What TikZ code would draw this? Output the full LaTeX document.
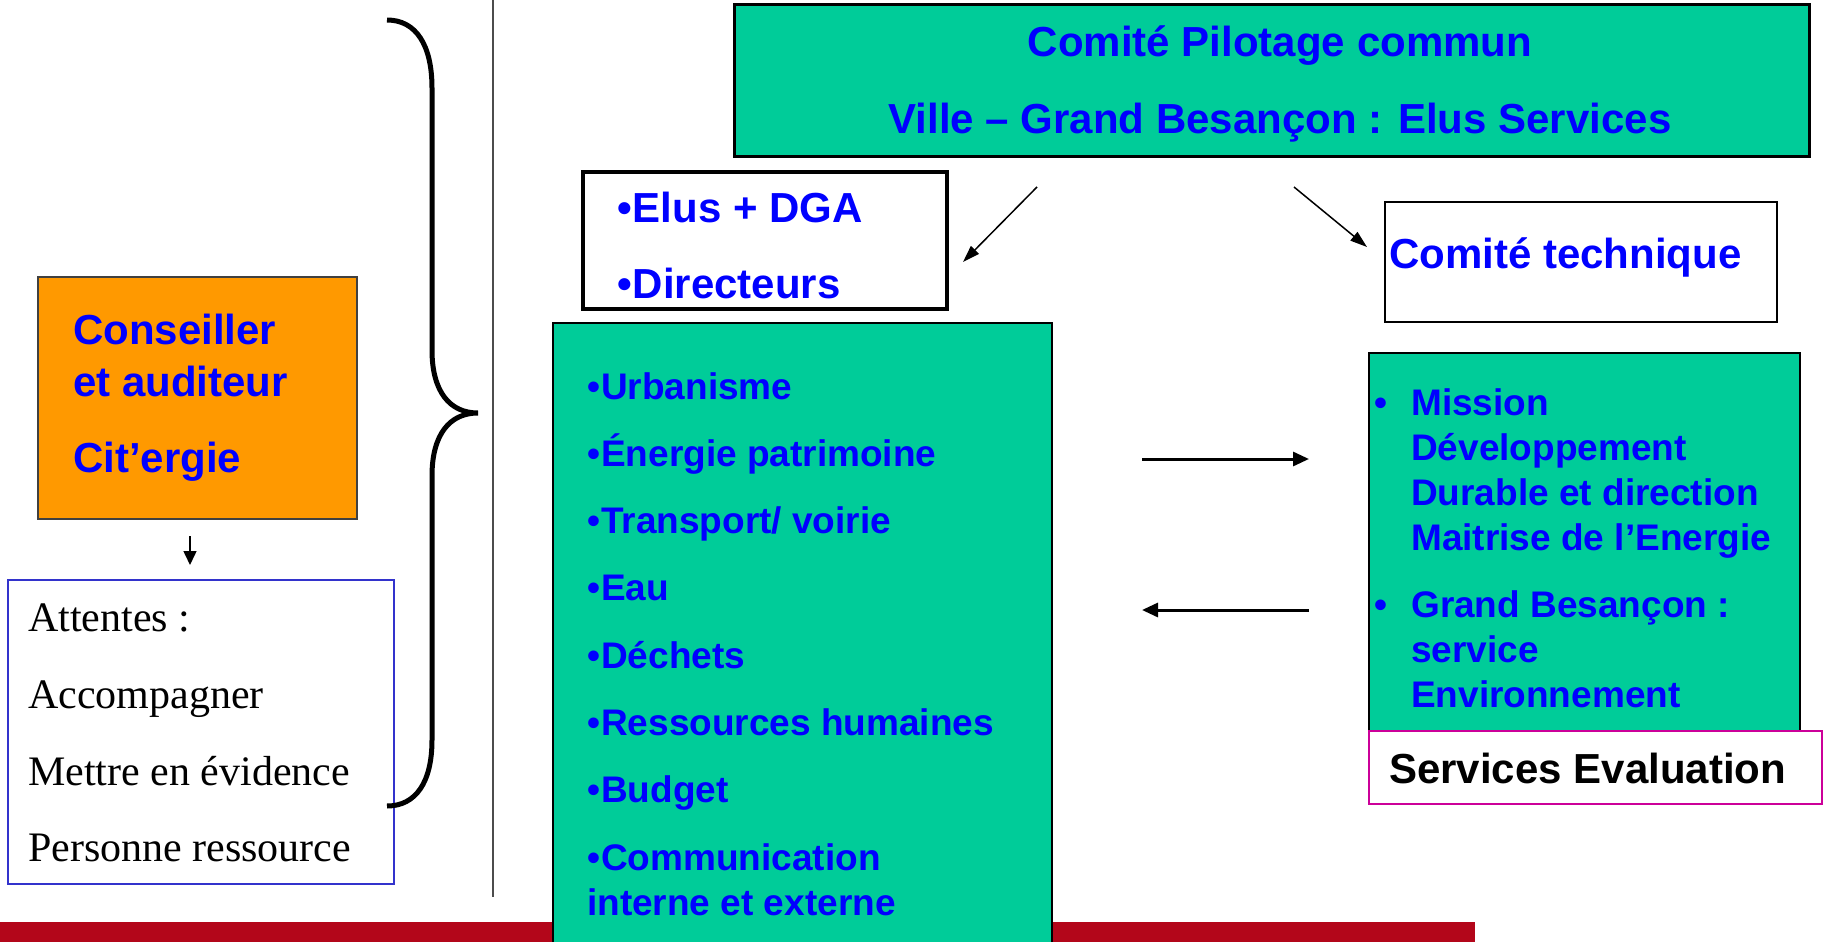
\documentclass[tikz,border=0pt]{standalone}
\usepackage{fontspec}
\setmainfont{Liberation Serif}
\setsansfont{Liberation Sans}
\usetikzlibrary{arrows.meta}

\definecolor{boxgreen}{HTML}{00CC99}
\definecolor{citorange}{HTML}{FF9900}
\definecolor{txtblue}{HTML}{0000FF}
\definecolor{barred}{HTML}{B3061A}
\definecolor{evalpink}{HTML}{CC0099}
\definecolor{attblue}{HTML}{3333CC}

\tikzset{
  box/.style = {rectangle, anchor = north west, inner sep = 0pt, outer sep = 0pt},
  bigtxt/.style = {anchor = base west, inner sep = 0pt, text = txtblue,
    font = \fontsize{42}{50}\selectfont\sffamily\bfseries},
  listtxt/.style = {bigtxt, font = \fontsize{37}{45}\selectfont\sffamily\bfseries},
  seriftxt/.style = {anchor = base west, inner sep = 0pt,
    font = \fontsize{42}{50}\selectfont\rmfamily},
  thinlink/.style = {line width = 1.5pt, -{Triangle[length = 17pt, width = 11pt]}},
  thicklink/.style = {line width = 3pt, -{Triangle[length = 16pt, width = 14pt]}}
}

\begin{document}
\begin{tikzpicture}[x = 1pt, y = -1pt]
        \useasboundingbox (0,0) rectangle (1824,942);

        % draws the red bar and the separator
        \fill[barred] (0,922) rectangle (1475,942);
        \draw[line width = 2pt, color = black!70] (493,0) -- (493,897);

        % draws the boxes
        \node[box, draw, line width = 3pt, fill = boxgreen,
          minimum width = 1075pt, minimum height = 151pt] (pilot) at (734,5) {};
        \node[box, draw, line width = 3.5pt, fill = white,
          minimum width = 364pt, minimum height = 137pt] (elus) at (583,172) {};
        \node[box, draw, line width = 1.5pt, fill = white,
          minimum width = 392pt, minimum height = 120pt] (tech) at (1385,202) {};
        \node[box, draw, line width = 2pt, fill = boxgreen,
          minimum width = 499pt, minimum height = 660pt] (services) at (553,323) {};
        \node[box, draw, line width = 2pt, fill = boxgreen,
          minimum width = 431pt, minimum height = 378pt] (mission) at (1369,353) {};
        \node[box, draw = evalpink, line width = 2pt, fill = white,
          minimum width = 453pt, minimum height = 73pt] (eval) at (1369,731) {};
        \node[box, draw = black!75, line width = 2pt, fill = citorange,
          minimum width = 319pt, minimum height = 242pt] (citergie) at (38,277) {};
        \node[box, draw = attblue, line width = 2pt, fill = white,
          minimum width = 386pt, minimum height = 304pt] (attentes) at (8,580) {};

        % draws the texts of the top boxes
        \node[bigtxt, anchor = base] (pilot1) at (1280,57) {Comité Pilotage commun};
        \node[bigtxt, anchor = base] (pilot2) at (1280,133)
          {Ville – Grand Besançon : Elus Services};
        \node[bigtxt] (elus1) at (617,222) {•\kern1pt Elus + DGA};
        \node[bigtxt] (elus2) at (617,298) {•\kern1pt Directeurs};
        \node[bigtxt] (tech1) at (1389,268) {Comité technique};

        % draws the list of services
        \foreach \t [count = \i] in {Urbanisme, Énergie patrimoine,
          Transport/ voirie, Eau, Déchets, Ressources humaines,
          Budget, Communication}
          \node[listtxt] (item\i) at (587, 399 + 67.3*\i - 67.3) {•\kern1pt\t};
        \node[listtxt] (item9) at (587,915) {interne et externe};

        % draws the mission box
        \foreach \y in {415, 617}
          \node[listtxt] at (1374,\y) {•};
        \foreach \t/\y in {Mission/415, Développement/460,
          Durable et direction/505, Maitrise de l’Energie/550,
          Grand Besançon :/617, service/662, Environnement/707}
          \node[listtxt] at (1411,\y) {\t};
        \node[bigtxt, text = black] (eval1) at (1389,783) {Services Evaluation};

        % draws the left column
        \foreach \t/\y in {Conseiller/344, et auditeur/396, Cit’ergie/472}
          \node[bigtxt] at (73,\y) {\t};
        \foreach \t/\y in {Attentes :/631, Accompagner/708,
          Mettre en évidence/785, Personne ressource/861}
          \node[seriftxt] at (28,\y) {\t};

        % draws the brace
        \draw[line width = 5pt]
          (387,20) .. controls (416,20) and (432,45) .. (432,88)
          -- (432,350) .. controls (432,392) and (450,413) .. (478,413)
          .. controls (450,413) and (432,434) .. (432,476)
          -- (432,740) .. controls (432,782) and (416,806) .. (387,806);

        % draws the arrows
        \coordinate (p1) at (1037,187);
        \coordinate (e1) at (963,262);
        \coordinate (p2) at (1294,187);
        \coordinate (t2) at (1367,247);
        \coordinate (h1) at (1142,459);
        \coordinate (m1) at (1309,459);
        \coordinate (m2) at (1309,610);
        \coordinate (h2) at (1142,610);
        \coordinate (c1) at (190,536);
        \coordinate (a1) at (190,565);
        \draw[thinlink] (p1) -- (e1);
        \draw[thinlink] (p2) -- (t2);
        \draw[thicklink] (h1) -- (m1);
        \draw[thicklink] (m2) -- (h2);
        \draw[line width = 1.5pt, -{Triangle[length = 14pt, width = 13pt]}]
          (c1) -- (a1);
      \end{tikzpicture}
\end{document}
